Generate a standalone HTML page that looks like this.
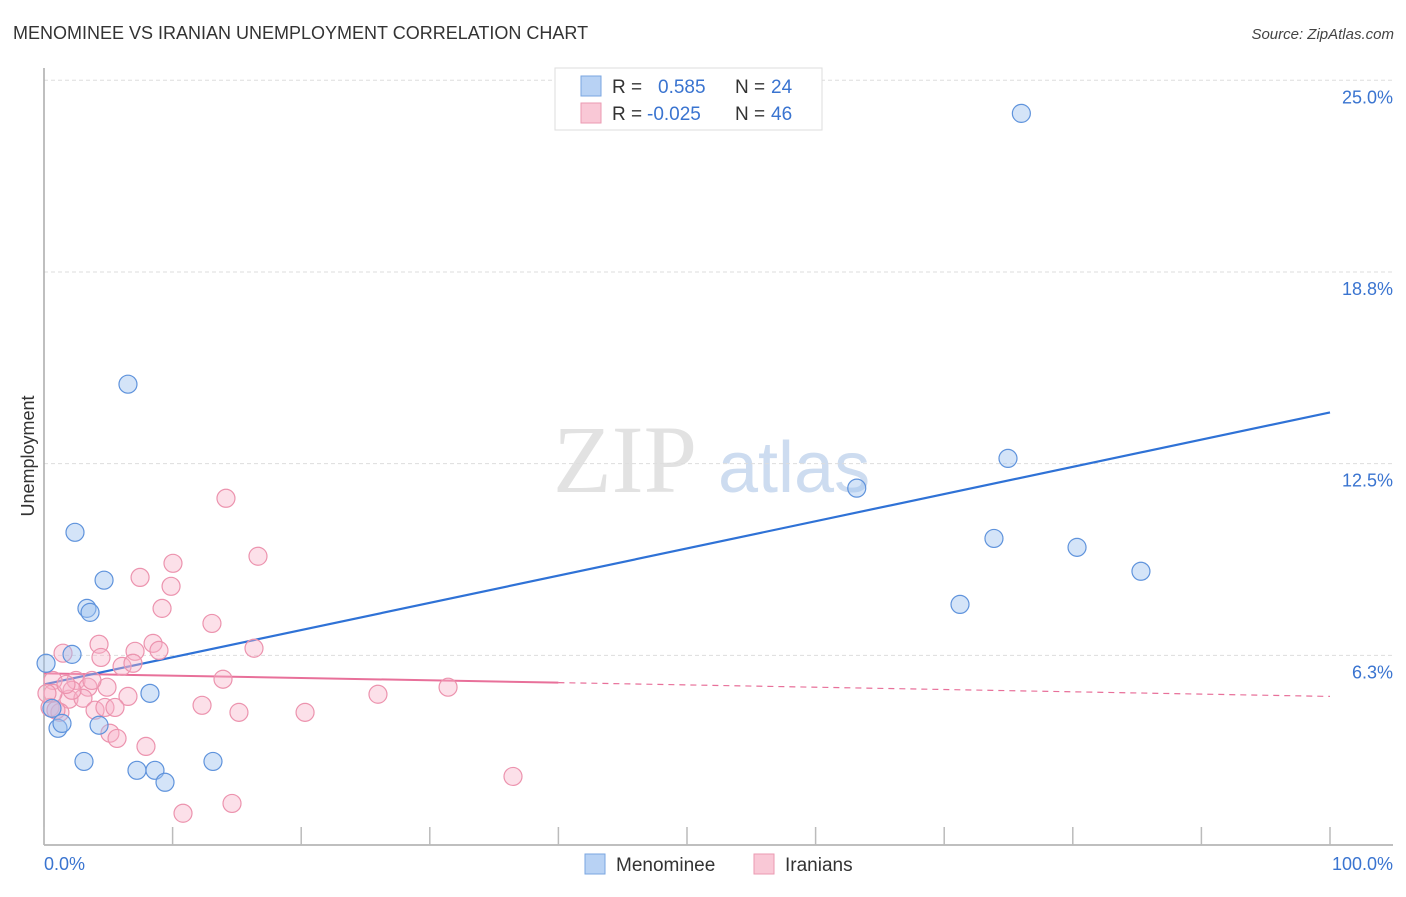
<!DOCTYPE html>
<html><head><meta charset="utf-8"><style>
body{margin:0;background:#fff;font-family:"Liberation Sans",sans-serif;}
svg text{font-family:"Liberation Sans",sans-serif;}
</style></head><body>
<svg id="chart" width="1406" height="892" xmlns="http://www.w3.org/2000/svg">
<text x="13" y="39" font-size="18" fill="#333">MENOMINEE VS IRANIAN UNEMPLOYMENT CORRELATION CHART</text>
<text x="1394" y="39" font-size="15" fill="#444" font-style="italic" text-anchor="end">Source: ZipAtlas.com</text>
<g>
<text x="553" y="492" font-size="96" fill="#e2e2e2" style="font-family:'Liberation Serif',serif">ZIP</text>
<text x="718" y="492" font-size="72" fill="#cddcf0">atlas</text>
</g>
<g id="grid"></g>
<line x1="44" y1="68" x2="44" y2="845" stroke="#aaa" stroke-width="1.5"/>
<line x1="44" y1="845" x2="1393" y2="845" stroke="#aaa" stroke-width="1.5"/>
<g id="xticks"></g>
<text transform="translate(34,456) rotate(-90)" font-size="18" fill="#333" text-anchor="middle">Unemployment</text>
<text x="44" y="870" font-size="18" fill="#3a74d0">0.0%</text>
<text x="1393" y="870" font-size="18" fill="#3a74d0" text-anchor="end">100.0%</text>
<g id="trends"></g>
<g id="points"></g>
<g>
<rect x="555" y="68" width="267" height="62" fill="#fff" stroke="#ddd"/>
<rect x="581" y="76" width="20" height="20" fill="#b8d2f4" stroke="#7aa6e0"/>
<rect x="581" y="103" width="20" height="20" fill="#f9c8d6" stroke="#eb9ab2"/>
<text x="612" y="93" font-size="19" fill="#333">R =</text>
<text x="658" y="93" font-size="19" fill="#3a74d0">0.585</text>
<text x="735" y="93" font-size="19" fill="#333">N =</text>
<text x="771" y="93" font-size="19" fill="#3a74d0">24</text>
<text x="612" y="120" font-size="19" fill="#333">R =</text>
<text x="647" y="120" font-size="19" fill="#3a74d0">-0.025</text>
<text x="735" y="120" font-size="19" fill="#333">N =</text>
<text x="771" y="120" font-size="19" fill="#3a74d0">46</text>
</g>
<g>
<rect x="585" y="854" width="20" height="20" fill="#b8d2f4" stroke="#7aa6e0"/>
<text x="616" y="871" font-size="19" fill="#333">Menominee</text>
<rect x="754" y="854" width="20" height="20" fill="#f9c8d6" stroke="#eb9ab2"/>
<text x="785" y="871" font-size="19" fill="#333">Iranians</text>
</g>
</svg>
<script>
const yTicks=[6.25,12.5,18.75,25];
const yTickLabels=["6.3%","12.5%","18.8%","25.0%"];
const xTicks=[0,10,20,30,40,50,60,70,80,90,100];
const menomineeX=[76.0,6.53,2.41,4.67,3.34,3.58,2.18,0.16,8.24,0.62,1.09,1.40,4.28,3.11,7.23,8.63,9.41,13.14,63.2,74.96,73.87,80.33,85.3,71.23];
const menomineeY=[23.92,15.09,10.26,8.70,7.78,7.65,6.28,5.99,5.01,4.52,3.87,4.03,3.97,2.79,2.50,2.50,2.11,2.79,11.7,12.67,10.06,9.77,8.99,7.91];
const iranianX=[14.15,16.64,10.03,7.47,9.88,9.18,13.06,16.33,4.28,1.48,4.43,7.08,8.48,8.94,6.07,6.92,13.92,0.70,2.49,3.42,4.90,6.53,1.94,3.03,0.70,0.47,1.24,3.97,4.74,5.52,12.29,15.16,20.30,5.13,5.68,7.93,14.62,10.81,25.97,31.42,36.47,0.23,0.93,2.18,1.71,3.73];
const iranianY=[11.37,9.48,9.25,8.79,8.50,7.78,7.29,6.48,6.61,6.32,6.18,6.38,6.64,6.41,5.89,5.99,5.47,5.43,5.43,5.21,5.21,4.91,4.82,4.85,5.01,4.55,4.39,4.46,4.55,4.55,4.62,4.39,4.39,3.71,3.54,3.28,1.42,1.10,4.98,5.21,2.30,5.01,4.46,5.11,5.30,5.43];
const menomineeTrend=[5.30,14.17];
const iranianTrend=[5.66,4.91];
const iranianSolidEnd=40;
const NS="http://www.w3.org/2000/svg";
const xs=v=>44+v*12.86;
const ys=v=>847-v*30.67;
function mk(tag,attrs,parent){const e=document.createElementNS(NS,tag);for(const k in attrs)e.setAttribute(k,attrs[k]);parent.appendChild(e);return e;}
const grid=document.getElementById('grid');
yTicks.forEach((t,i)=>{
 const l=mk('line',{x1:44,x2:1393,y1:ys(t),y2:ys(t),stroke:'#ddd','stroke-dasharray':'4,3'},grid);
 
 
 const tx=mk('text',{x:1393,y:ys(t)+23,'font-size':18,fill:'#3a74d0','text-anchor':'end'},grid);
 tx.textContent=yTickLabels[i];
 
 
});
const xt=document.getElementById('xticks');
xTicks.forEach(t=>{
 const l=mk('line',{x1:xs(t),x2:xs(t),y1:827,y2:845,stroke:'#bbb','stroke-width':1.5},xt);
 
 
});
const tr=document.getElementById('trends');
const ip=v=>iranianTrend[0]+(iranianTrend[1]-iranianTrend[0])*v/100;
let a=mk('line',{x1:xs(0),y1:ys(ip(0)),x2:xs(iranianSolidEnd),y2:ys(ip(iranianSolidEnd)),stroke:'#e8709a','stroke-width':2},tr);


a=mk('line',{x1:xs(iranianSolidEnd),y1:ys(ip(iranianSolidEnd)),x2:xs(100),y2:ys(ip(100)),stroke:'#e8709a','stroke-width':1.2,'stroke-dasharray':'6,5'},tr);


a=mk('line',{x1:xs(0),y1:ys(menomineeTrend[0]),x2:xs(100),y2:ys(menomineeTrend[1]),stroke:'#2f72d6','stroke-width':2.2},tr);


const pts=document.getElementById('points');
iranianX.forEach((x,i)=>{
 const c=mk('circle',{cx:xs(x),cy:ys(iranianY[i]),r:9,fill:'rgba(248,178,200,0.4)',stroke:'#ec93ae','stroke-width':1.2},pts);
 
 
});
menomineeX.forEach((x,i)=>{
 const c=mk('circle',{cx:xs(x),cy:ys(menomineeY[i]),r:9,fill:'rgba(160,196,240,0.45)',stroke:'#5f93dc','stroke-width':1.2},pts);
 
 
});
</script>
</body></html>
